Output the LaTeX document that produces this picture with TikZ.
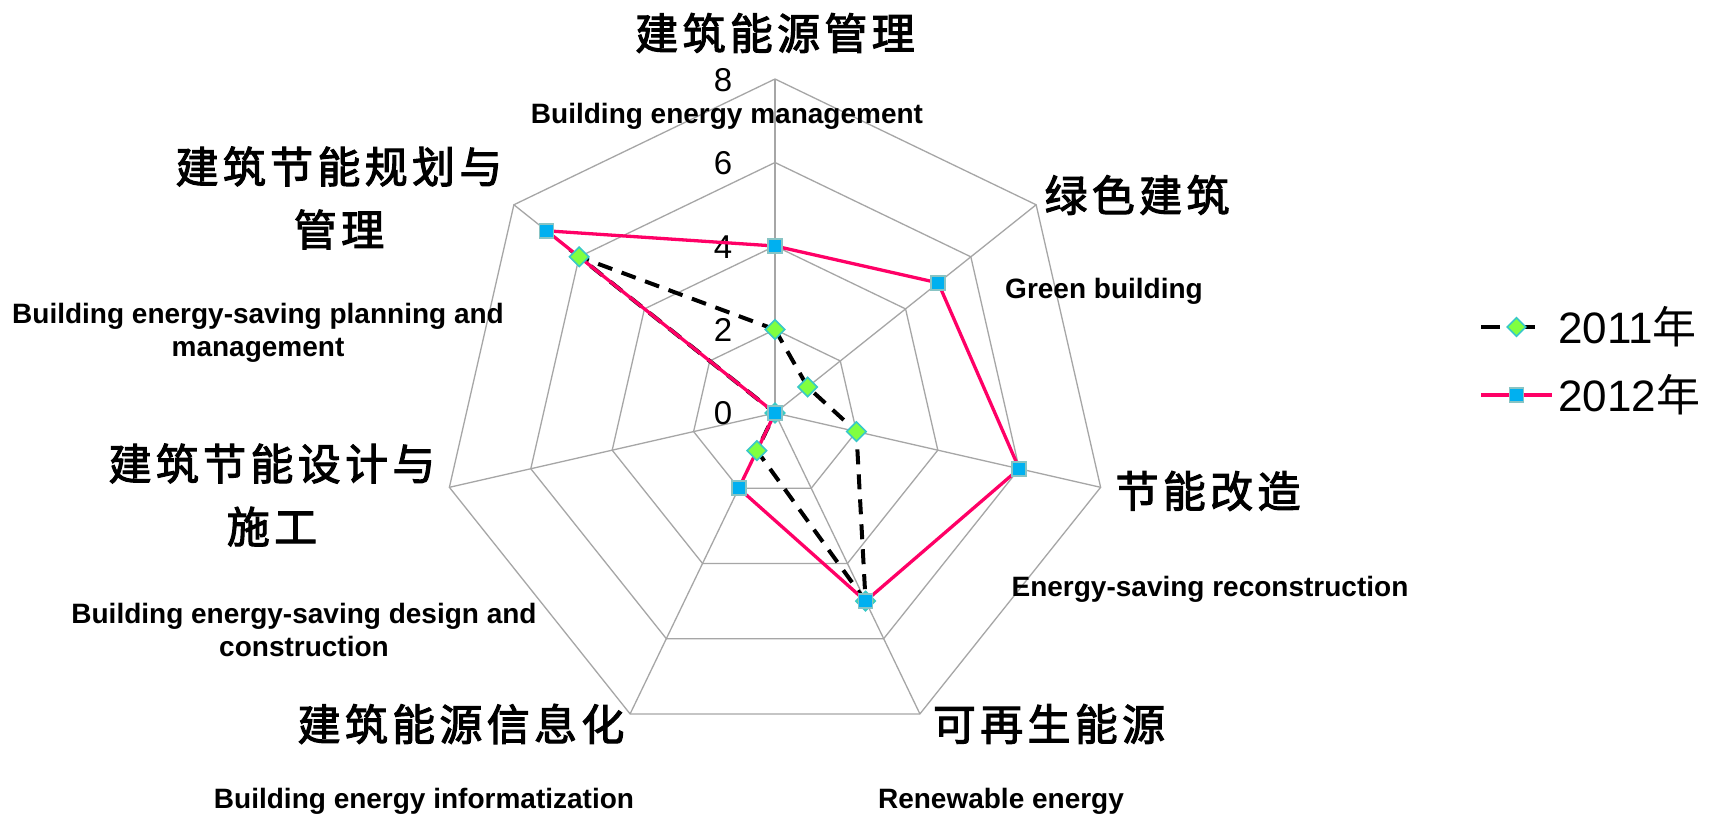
\documentclass[tikz,border=0pt]{standalone}
\usepackage{fontspec}
\setmainfont{Liberation Sans}
\newfontfamily\cjk[FakeBold=2.5,LetterSpace=10]{Noto Sans CJK SC}
\newfontfamily\cjkleg{Noto Sans CJK SC}
\usetikzlibrary{shapes.geometric}
\definecolor{gridc}{HTML}{A6A6A6}
\definecolor{pinkc}{HTML}{FF0066}
\definecolor{limec}{HTML}{80FF40}
\definecolor{tealc}{HTML}{38C8C8}
\definecolor{bluec}{HTML}{00B0F0}
\definecolor{sqbord}{HTML}{88C4C4}
\tikzset{
 gridline/.style={draw=gridc, line width=1.3pt},
 sone/.style={draw=black, line width=4pt, dash pattern=on 15pt off 10pt},
 stwo/.style={draw=pinkc, line width=3.3pt},
 dmark/.style={diamond, fill=limec, draw=tealc, line width=1.6pt, minimum size=20pt, inner sep=0pt},
 smark/.style={rectangle, fill=bluec, draw=sqbord, line width=1.6pt, minimum size=14pt, inner sep=0pt},
 cnlab/.style={font=\cjk\fontsize{43}{63}\selectfont, align=center, text=black, inner sep=0pt},
 enlab/.style={font=\bfseries\fontsize{28}{33}\selectfont, align=center, inner sep=0pt},
 ticklab/.style={font=\fontsize{33}{38}\selectfont, inner sep=0pt},
 leglab/.style={font=\fontsize{44}{50}\selectfont, anchor=west, inner sep=0pt},
}
\begin{document}
\begin{tikzpicture}[x=1pt,y=-1pt]
\useasboundingbox (0,0) rectangle (1718,814);
\fill[white] (0,0) rectangle (1718,814);
\def\cx{775}\def\cy{413}\def\u{41.75}
\coordinate (c) at (\cx,\cy);
% grid
\foreach \r in {2,4,6,8}{
  \foreach \k in {0,...,6}{
    \coordinate (g\r-\k) at ({\cx+\u*\r*sin(\k*360/7)},{\cy-\u*\r*cos(\k*360/7)});
  }
  \draw[gridline] (g\r-0) -- (g\r-1) -- (g\r-2) -- (g\r-3) -- (g\r-4) -- (g\r-5) -- (g\r-6) -- cycle;
}
\foreach \k in {0,...,6}{ \draw[gridline] (c) -- (g8-\k); }
% tick labels
\node[ticklab] (t8) at (723,80) {8};
\node[ticklab] (t6) at (723,163) {6};
\node[ticklab] (t4) at (723,247) {4};
\node[ticklab] (t2) at (723,330) {2};
\node[ticklab] (t0) at (723,413) {0};
% data points
\foreach \v [count=\k from 0] in {2,1,2,5,1,0,6}{
  \coordinate (p\k) at ({\cx+\u*\v*sin(\k*360/7)},{\cy-\u*\v*cos(\k*360/7)});
}
\foreach \v [count=\k from 0] in {4,5,6,5,2,0,7}{
  \coordinate (q\k) at ({\cx+\u*\v*sin(\k*360/7)},{\cy-\u*\v*cos(\k*360/7)});
}
\draw[sone] (p0) -- (p1) -- (p2) -- (p3) -- (p4) -- (p5) -- (p6) -- cycle;
\draw[stwo] (q0) -- (q1) -- (q2) -- (q3) -- (q4) -- (q5) -- (q6) -- cycle;
\foreach \k in {0,...,6}{ \node[dmark] (dm\k) at (p\k) {}; }
\foreach \k in {0,...,6}{ \node[smark] (sm\k) at (q\k) {}; }
% axis labels
\node[cnlab] (L0) at (775,33) {建筑能源管理};
\node[enlab] (E0) at (727,116) {Building energy management};
\node[cnlab] (L1) at (1137,195) {绿色建筑};
\node[enlab] (E1) at (1104,291) {Green building};
\node[cnlab] (L2) at (1208,491) {节能改造};
\node[enlab] (E2) at (1210,589) {Energy-saving reconstruction};
\node[cnlab] (L3) at (1049,724) {可再生能源};
\node[enlab] (E3) at (1001,801) {Renewable energy};
\node[cnlab] (L4) at (461,724) {建筑能源信息化};
\node[enlab] (E4) at (424,801) {Building energy informatization};
\node[cnlab] (L5) at (272,495) {建筑节能设计与\\施工};
\node[enlab] (E5) at (304,630) {Building energy-saving design and\\construction};
\node[cnlab] (L6) at (339,198) {建筑节能规划与\\管理};
\node[enlab] (E6) at (258,333) {Building energy-saving planning and\\management};
% legend
\coordinate (la) at (1481,327);
\coordinate (lb) at (1552,327);
\draw[sone, dash pattern=on 19pt off 25pt on 10pt off 20pt] (la) -- (lb);
\node[dmark, minimum size=19pt] (lm1) at (1516.5,327) {};
\node[leglab] (lt1) at (1558,327) {2011{\cjkleg 年}};
\coordinate (lc) at (1481,395);
\coordinate (ld) at (1552,395);
\draw[stwo] (lc) -- (ld);
\node[smark] (lm2) at (1516.5,395) {};
\node[leglab] (lt2) at (1558,395) {2012{\cjkleg 年}};
\end{tikzpicture}
\end{document}
